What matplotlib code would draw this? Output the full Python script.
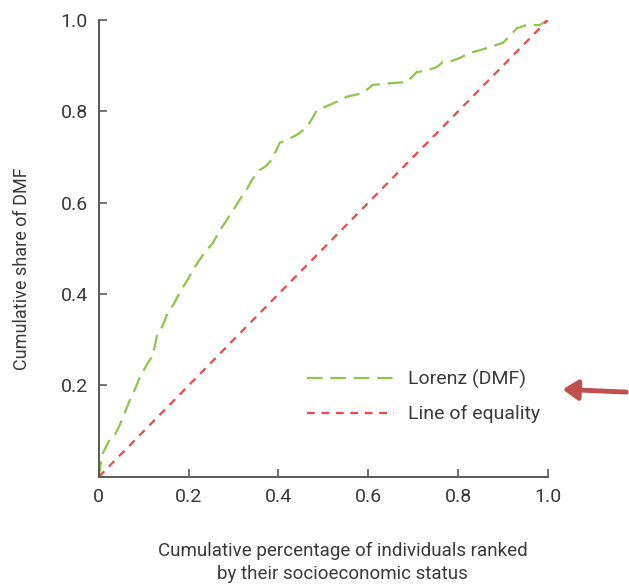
import matplotlib.pyplot as plt
from matplotlib.lines import Line2D
from matplotlib.patches import FancyArrowPatch

# Lorenz curve for DMF
lorenz_x = [0.0, 0.008, 0.024, 0.035, 0.047, 0.058, 0.069, 0.08, 0.091, 0.109,
            0.12, 0.13, 0.142, 0.154, 0.167, 0.18, 0.197, 0.214, 0.235, 0.254,
            0.27, 0.285, 0.3, 0.318, 0.33, 0.341, 0.359, 0.372, 0.385, 0.403,
            0.418, 0.44, 0.463, 0.486, 0.514, 0.532, 0.552, 0.588, 0.61,
            0.655, 0.686, 0.708, 0.73, 0.753, 0.766, 0.785, 0.804, 0.826,
            0.849, 0.875, 0.90, 0.922, 0.931, 0.953, 0.982, 1.0]
lorenz_y = [0.0, 0.05, 0.081, 0.09, 0.114, 0.14, 0.168, 0.19, 0.217, 0.249,
            0.265, 0.31, 0.33, 0.36, 0.378, 0.403, 0.43, 0.46, 0.49, 0.512,
            0.54, 0.562, 0.585, 0.613, 0.63, 0.65, 0.672, 0.68, 0.694, 0.731,
            0.737, 0.748, 0.764, 0.803, 0.814, 0.822, 0.832, 0.840, 0.858,
            0.862, 0.864, 0.886, 0.889, 0.897, 0.908, 0.91, 0.917, 0.928,
            0.934, 0.942, 0.95, 0.972, 0.982, 0.989, 0.989, 1.0]
equality = [0.0, 1.0]

x_ticks = [0, 0.2, 0.4, 0.6, 0.8, 1.0]
x_tick_labels = ["0", "0.2", "0.4", "0.6", "0.8", "1.0"]
y_ticks = [0.2, 0.4, 0.6, 0.8, 1.0]
y_tick_labels = ["0.2", "0.4", "0.6", "0.8", "1.0"]

green = "#8dc64a"
red = "#f0474b"
text_col = "#3a3a3a"
spine_col = "#5a5a5a"

plt.rcParams["font.family"] = ["Roboto", "DejaVu Sans"]

fig = plt.figure(figsize=(6.29, 5.88), dpi=100)
ax = fig.add_axes([0.157, 0.189, 0.714, 0.777])

ax.plot(lorenz_x, lorenz_y, color=green, lw=1.6, dashes=(7, 3.5))
ax.plot(equality, equality, color=red, lw=1.6, dashes=(3.5, 3))

ax.set_xlim(0, 1.0)
ax.set_ylim(0, 1.0)
ax.set_xticks(x_ticks)
ax.set_xticklabels(x_tick_labels)
ax.set_yticks(y_ticks)
ax.set_yticklabels(y_tick_labels)
ax.tick_params(direction="in", length=6, width=1.2, color=spine_col,
               labelsize=14, labelcolor=text_col, pad=8)
for side in ["top", "right"]:
    ax.spines[side].set_visible(False)
for side in ["left", "bottom"]:
    ax.spines[side].set_color(spine_col)
    ax.spines[side].set_linewidth(1.4)

fig.text(0.035, 0.543, "Cumulative share of DMF", rotation=90, ha="center",
         va="center", fontsize=13, color=text_col)
fig.text(0.545, 0.008, "Cumulative percentage of individuals ranked\nby their socioeconomic status",
         ha="center", va="bottom", fontsize=13.5, color=text_col, linespacing=1.4)

handles = [
    Line2D([], [], color=green, lw=1.6, dashes=(7, 3.5)),
    Line2D([], [], color=red, lw=1.6, dashes=(3.5, 3)),
]
ax.legend(handles, ["Lorenz (DMF)", "Line of equality"], loc="lower right",
          bbox_to_anchor=(1.0, 0.1), borderaxespad=0, frameon=False, fontsize=14,
          handlelength=4.5, handletextpad=0.7, labelspacing=0.85,
          labelcolor=text_col)

# arrow outside the axes pointing at the legend
fig.add_artist(FancyArrowPatch(
    (1.0, 0.333), (0.89, 0.338), transform=fig.transFigure,
    arrowstyle="-|>,head_length=9,head_width=6", mutation_scale=1,
    color="#c0504d", lw=3.5))

fig.savefig("out.png", dpi=100)
